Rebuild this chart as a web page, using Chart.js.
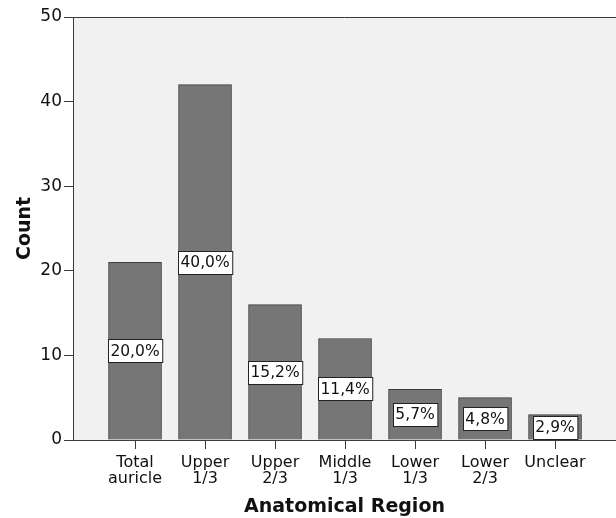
<!DOCTYPE html>
<html>
<head>
<meta charset="utf-8">
<script src="https://cdn.jsdelivr.net/npm/chart.js@4"></script>
<style>
  html, body { margin: 0; padding: 0; background: #fff; }
  #wrap { width: 616px; height: 518px; }
</style>
</head>
<body>
<div id="wrap"><canvas id="chart" width="616" height="518"></canvas></div>
<script>
// Chart data
const categories = [["Total", "auricle"], ["Upper", "1/3"], ["Upper", "2/3"], ["Middle", "1/3"], ["Lower", "1/3"], ["Lower", "2/3"], "Unclear"];
const counts = [21, 42, 16, 12, 6, 5, 3];
const percentLabels = ["20,0%", "40,0%", "15,2%", "11,4%", "5,7%", "4,8%", "2,9%"];
const yTicks = [0, 10, 20, 30, 40, 50];

const FONT = "'DejaVu Sans', sans-serif";
const AXIS = "#3a3a3a";

/** Plot background, top frame line and category tick marks */
const plotBackground = {
  id: "plotBackground",
  beforeDraw(chart) {
    const { ctx, chartArea: a } = chart;
    ctx.save();
    ctx.fillStyle = "#f1f1f1";
    ctx.fillRect(a.left, a.top, a.right - a.left, a.bottom - a.top);
    ctx.strokeStyle = AXIS;
    ctx.lineWidth = 1;
    ctx.beginPath();
    ctx.moveTo(a.left, a.top + 0.5);
    ctx.lineTo(a.right, a.top + 0.5);
    ctx.stroke();
    ctx.restore();
  },
  afterDraw(chart) {
    const { ctx, chartArea: a } = chart;
    const xScale = chart.scales.x;
    ctx.save();
    ctx.strokeStyle = AXIS;
    ctx.lineWidth = 1;
    ctx.beginPath();
    xScale.ticks.forEach((t, i) => {
      const px = Math.round(xScale.getPixelForTick(i)) + 0.5;
      ctx.moveTo(px, a.bottom);
      ctx.lineTo(px, a.bottom + 9);
    });
    ctx.stroke();
    ctx.restore();
  },
};

/** Percentage boxes in the middle of every bar */
const percentBoxes = {
  id: "percentBoxes",
  afterDatasetsDraw(chart) {
    const { ctx } = chart;
    const meta = chart.getDatasetMeta(0);
    ctx.save();
    ctx.font = "15.5px " + FONT;
    ctx.textAlign = "center";
    ctx.textBaseline = "middle";
    meta.data.forEach((bar, i) => {
      const text = percentLabels[i];
      const cy = (bar.y + bar.base) / 2;
      const w = ctx.measureText(text).width + 5;
      const h = 23;
      const x0 = Math.round(bar.x - w / 2) + 0.5;
      const y0 = Math.round(cy - h / 2) + 0.5;
      ctx.fillStyle = "#ffffff";
      ctx.fillRect(x0, y0, w, h);
      ctx.strokeStyle = "#222";
      ctx.lineWidth = 1;
      ctx.strokeRect(x0, y0, w, h);
      ctx.fillStyle = "#111";
      ctx.fillText(text, bar.x, cy + 1);
    });
    ctx.restore();
  },
};

new Chart(document.getElementById("chart"), {
  type: "bar",
  data: {
    datasets: [
      {
        label: "Count",
        data: counts.map((v, i) => ({ x: i, y: v })),
        backgroundColor: "#767676",
        borderColor: "#3c3c3c",
        borderWidth: 1,
        barThickness: 53,
      },
    ],
  },
  options: {
    responsive: false,
    animation: false,
    layout: { padding: { top: 17, right: 0, left: 0, bottom: 0 } },
    plugins: {
      legend: { display: false },
      tooltip: { enabled: false },
    },
    scales: {
      x: {
        type: "linear",
        offset: false,
        min: -0.886,
        max: 6.871,
        afterBuildTicks: (scale) => {
          scale.ticks = categories.map((c, i) => ({ value: i }));
        },
        afterFit: (scale) => {
          scale.height = 78;
        },
        grid: { display: false },
        border: { color: AXIS, width: 1 },
        ticks: {
          autoSkip: false,
          maxRotation: 0,
          padding: 7,
          color: "#111",
          font: { family: FONT, size: 16, lineHeight: 1.0 },
          callback: (value) => categories[value],
        },
        title: {
          display: true,
          text: "Anatomical Region",
          color: "#111",
          font: { family: FONT, size: 19, weight: "bold" },
          padding: { top: 2, bottom: 0 },
        },
      },
      y: {
        min: 0,
        max: 50,
        afterBuildTicks: (scale) => {
          scale.ticks = yTicks.map((v) => ({ value: v }));
        },
        afterFit: (scale) => {
          scale.width = 73;
        },
        grid: { drawOnChartArea: false, color: AXIS, tickLength: 9 },
        border: { color: AXIS, width: 1 },
        ticks: {
          padding: 2,
          color: "#111",
          font: { family: FONT, size: 17 },
        },
        title: {
          display: true,
          text: "Count",
          color: "#111",
          font: { family: FONT, size: 19, weight: "bold" },
          padding: { top: 14, bottom: 0 },
        },
      },
    },
  },
  plugins: [plotBackground, percentBoxes],
});
</script>
</body>
</html>
